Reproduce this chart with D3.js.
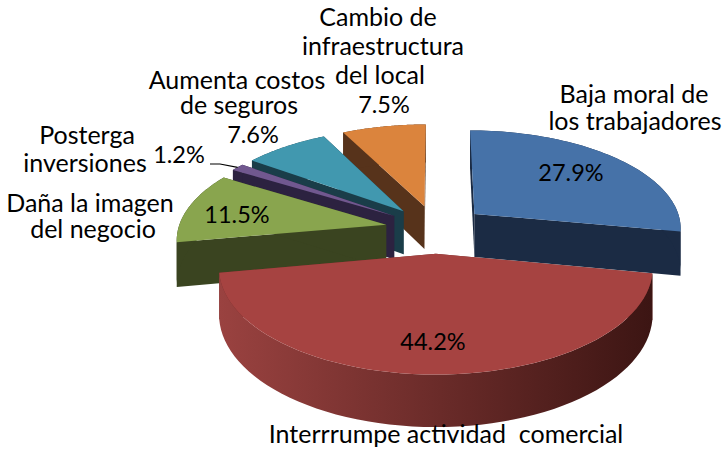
<!DOCTYPE html>
<html>
<head>
<meta charset="utf-8">
<style>
  html, body { margin: 0; padding: 0; background: #fff; }
  svg { display: block; }
  text { font-family: Lato, "Open Sans", sans-serif; font-size: 25px; fill: #000; white-space: pre; }
  text.pct { font-size: 23.5px; }
</style>
<script src="https://cdn.jsdelivr.net/npm/d3@7/dist/d3.min.js"></script>
</head>
<body>
<svg width="724" height="453"></svg>
<script>
// data
const categories = ["Baja moral de los trabajadores", "Interrrumpe actividad comercial", "Daña la imagen del negocio", "Posterga inversiones", "Aumenta costos de seguros", "Cambio de infraestructura del local"];
const values = [27.9, 44.2, 11.5, 1.2, 7.6, 7.5];
const topColors = ["#4672a8", "#a64341", "#89a54e", "#71588f", "#4198af", "#db843d"];
const sideColors = ["#1b2b44", "#6e2c2b", "#3a4420", "#2c2240", "#1a3d49", "#57331b"];
// painter's order, back to front
const drawOrder = [5, 4, 3, 2, 0, 1];

// label lines: text, centre x, baseline y
const labelLines = [
  ["Cambio de", 378, 26], ["infraestructura", 383, 55], ["del local", 380, 84], ["7.5%", 384, 113],
  ["Aumenta costos", 237, 89], ["de seguros", 239, 114], ["7.6%", 253, 143],
  ["Posterga", 87, 144], ["inversiones", 85, 172], ["1.2%", 179, 163],
  ["Daña la imagen", 90, 212], ["del negocio", 93, 238], ["11.5%", 237, 223],
  ["Baja moral de", 634, 103], ["los trabajadores", 635, 130], ["27.9%", 571, 181],
  ["44.2%", 433, 350],
  ["Interrrumpe actividad  comercial", 446, 443]
];

const svg = d3.select("svg");

// ---- projection of the tilted disc ----
const cx = 436, cy = 229, R = 208, Rk = 98, persp = 0.13, explode = 0.245, depth = 44;

function project(u, v, down) {
  const s = 1 / (1 - persp * v);
  return [cx + R * u * s, cy + Rk * v * s + (down ? depth * s : 0)];
}

// point of a slice, a = clockwise angle from the top, r = 0..1
function slicePoint(mid, a, r, down) {
  const u = r * Math.sin(a) + explode * Math.sin(mid);
  const v = -r * Math.cos(a) - explode * Math.cos(mid);
  return project(u, v, down);
}

const pie = d3.pie().sort(null).startAngle(0).endAngle(2 * Math.PI);
const arcs = pie(values);
const line = d3.line();

// gradient for the rim of the big slice
const grad = svg.append("defs").append("linearGradient").attr("id", "rimRed");
grad.append("stop").attr("offset", "0%").attr("stop-color", "#9a4240");
grad.append("stop").attr("offset", "100%").attr("stop-color", "#3c1513");

drawOrder.forEach(i => {
  const d = arcs[i];
  const mid = (d.startAngle + d.endAngle) / 2;
  const g = svg.append("g");
  const arcAngles = d3.range(0, 61).map(t => d.startAngle + (d.endAngle - d.startAngle) * t / 60);

  // cut walls
  [d.startAngle, d.endAngle].forEach(a => {
    const wall = [slicePoint(mid, a, 0, false), slicePoint(mid, a, 1, false), slicePoint(mid, a, 1, true), slicePoint(mid, a, 0, true)];
    g.append("path").attr("d", line(wall) + "Z").attr("fill", sideColors[i]);
  });

  // outer rim
  const rim = arcAngles.map(a => slicePoint(mid, a, 1, false))
    .concat(arcAngles.slice().reverse().map(a => slicePoint(mid, a, 1, true)));
  g.append("path").attr("d", line(rim) + "Z")
    .attr("fill", i === 1 ? "url(#rimRed)" : sideColors[i]);

  // top face
  const top = [slicePoint(mid, 0, 0, false)].concat(arcAngles.map(a => slicePoint(mid, a, 1, false)));
  g.append("path").attr("d", line(top) + "Z").attr("fill", topColors[i]);
});

// leader line of the small slice
const small = arcs[3];
const smallMid = (small.startAngle + small.endAngle) / 2;
const leaderEnd = slicePoint(smallMid, smallMid, 1, false);
svg.append("path")
  .attr("d", d3.line()([[210, 164], [220, 164], leaderEnd]))
  .attr("fill", "none").attr("stroke", "#000").attr("stroke-width", 1.2);

svg.selectAll("text.label").data(labelLines).enter().append("text")
  .attr("class", d => d[0].endsWith("%") ? "label pct" : "label")
  .attr("x", d => d[1]).attr("y", d => d[2])
  .attr("text-anchor", "middle")
  .text(d => d[0]);
</script>
</body>
</html>
